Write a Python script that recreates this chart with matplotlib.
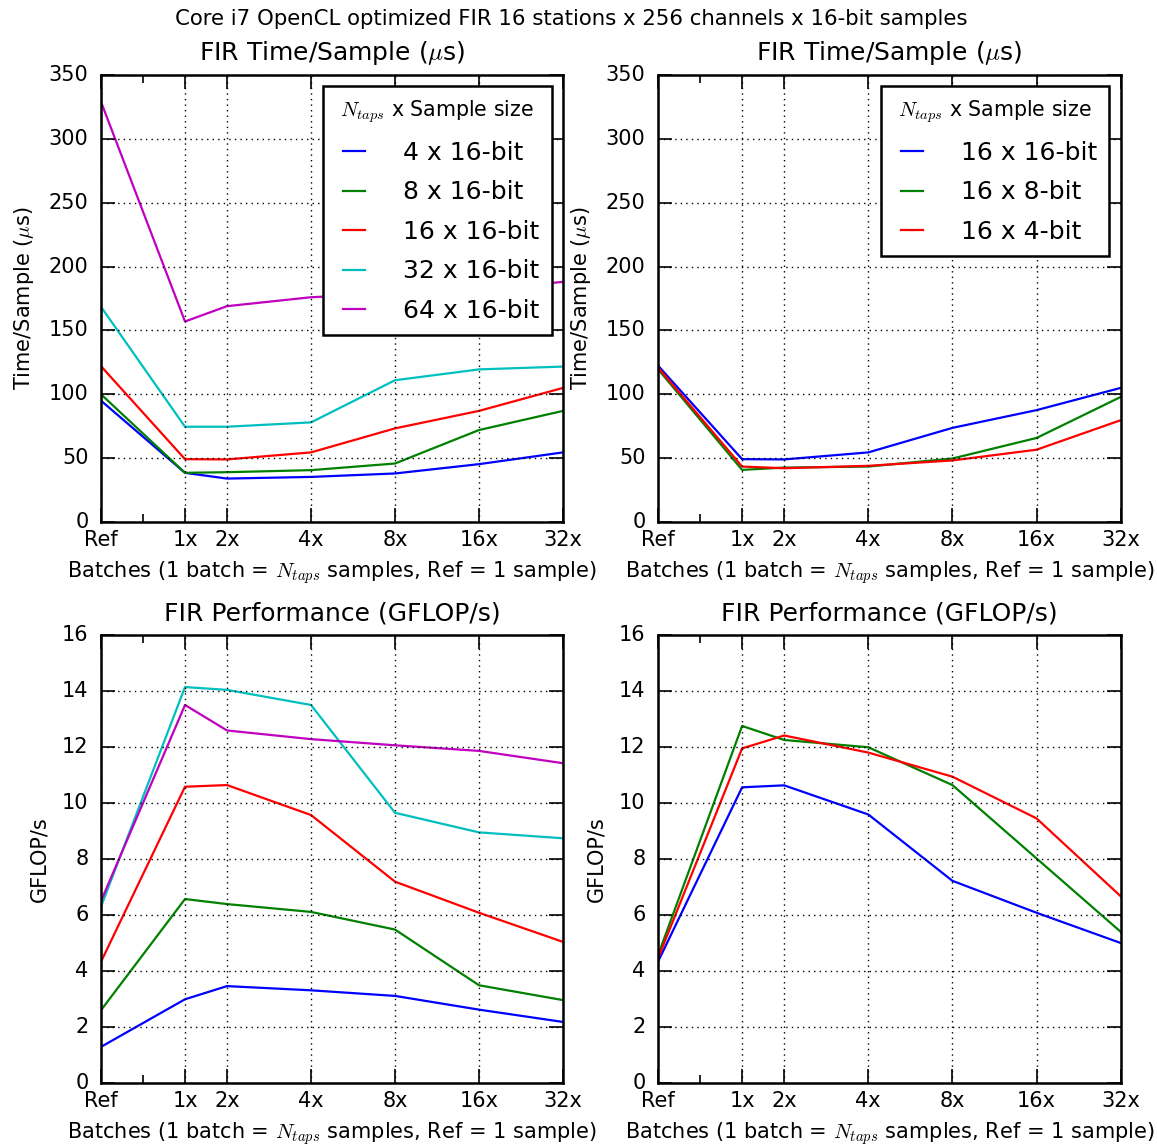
import matplotlib
matplotlib.use('Agg')
import matplotlib.pyplot as plt
from matplotlib.ticker import FixedLocator, MultipleLocator

plt.style.use('classic')
plt.rcParams['figure.facecolor'] = 'white'
plt.rcParams['savefig.facecolor'] = 'white'
plt.rcParams['axes.linewidth'] = 1.8

# batch sizes on the x axis (Ref = 1 sample, Nx = N batches)
batches = ['Ref', '1x', '2x', '4x', '8x', '16x', '32x']
batch_x = [0, 1, 1.5, 2.5, 3.5, 4.5, 5.5]

# left column: varying number of taps, 16-bit samples
taps_labels = ['4 x 16-bit', '8 x 16-bit', '16 x 16-bit', '32 x 16-bit', '64 x 16-bit']
taps_time = [
    [95, 38.5, 34, 35.3, 38, 45.3, 54.5],
    [100, 38.5, 39, 40.6, 45.8, 72, 87],
    [122, 49.2, 49, 54.5, 73.3, 87, 105],
    [168.5, 74.6, 74.6, 78, 111, 119.5, 121.7],
    [329, 157, 169, 176, 179, 182, 188],
]
taps_gflops = [
    [1.29, 2.99, 3.46, 3.31, 3.11, 2.62, 2.18],
    [2.6, 6.57, 6.39, 6.11, 5.48, 3.49, 2.96],
    [4.33, 10.58, 10.64, 9.57, 7.19, 6.08, 5.04],
    [6.3, 14.14, 14.04, 13.5, 9.65, 8.95, 8.74],
    [6.5, 13.5, 12.59, 12.28, 12.06, 11.86, 11.42],
]

# right column: 16 taps, varying sample size
bits_labels = ['16 x 16-bit', '16 x 8-bit', '16 x 4-bit']
bits_time = [
    [122.5, 49.2, 49, 54.5, 73.7, 87.6, 105],
    [119.7, 40.8, 42.6, 43.4, 49.7, 65.8, 97.9],
    [121, 43.4, 42.1, 44, 48.2, 56.6, 79.7],
]
bits_gflops = [
    [4.33, 10.56, 10.63, 9.59, 7.22, 6.08, 5.0],
    [4.56, 12.75, 12.25, 11.99, 10.64, 8.02, 5.4],
    [4.45, 11.95, 12.41, 11.8, 10.94, 9.45, 6.67],
]

colors = ['b', 'g', 'r', 'c', 'm']
legend_title = '$N_{taps}$ x Sample size'
xlabel = 'Batches (1 batch = $N_{taps}$ samples, Ref = 1 sample)'
time_title = r'FIR Time/Sample ($\mu$s)'
perf_title = 'FIR Performance (GFLOP/s)'


def setup(ax, title, ylabel, ymax, ystep):
    ax.set_xlim(batch_x[0], batch_x[-1])
    ax.set_ylim(0, ymax)
    ax.xaxis.set_major_locator(FixedLocator(batch_x))
    ax.xaxis.set_minor_locator(FixedLocator([0.5]))
    ax.set_xticklabels(batches)
    ax.yaxis.set_major_locator(MultipleLocator(ystep))
    ax.tick_params(which='major', length=10, width=1.2, labelsize=15)
    ax.tick_params(which='minor', length=6, width=1.2)
    ax.tick_params(axis='x', pad=6)
    ax.tick_params(axis='y', pad=9)
    ax.grid(True, which='major', color='k', linestyle=':', linewidth=1.0)
    ax.set_title(title, fontsize=18, y=1.017)
    ax.set_ylabel(ylabel, fontsize=15, labelpad=9)
    ax.set_xlabel(xlabel, fontsize=15, labelpad=6.5)


fig = plt.figure(figsize=(11.57, 11.47), dpi=100)
fig.suptitle('Core i7 OpenCL optimized FIR 16 stations x 256 channels x 16-bit samples',
             fontsize=15.3, x=0.494, y=0.992)

ax1 = fig.add_axes([0.0873, 0.5449, 0.3993, 0.3897])
ax2 = fig.add_axes([0.5687, 0.5449, 0.3999, 0.3897])
ax3 = fig.add_axes([0.0873, 0.0558, 0.3993, 0.3906])
ax4 = fig.add_axes([0.5687, 0.0558, 0.3999, 0.3906])

for i, label in enumerate(taps_labels):
    ax1.plot(batch_x, taps_time[i], color=colors[i], lw=1.6, label=label)
    ax3.plot(batch_x, taps_gflops[i], color=colors[i], lw=1.6, label=label)

for i, label in enumerate(bits_labels):
    ax2.plot(batch_x, bits_time[i], color=colors[i], lw=1.6, label=label)
    ax4.plot(batch_x, bits_gflops[i], color=colors[i], lw=1.6, label=label)

setup(ax1, time_title, r'Time/Sample ($\mu$s)', 350, 50)
setup(ax2, time_title, r'Time/Sample ($\mu$s)', 350, 50)
setup(ax3, perf_title, 'GFLOP/s', 16, 2)
setup(ax4, perf_title, 'GFLOP/s', 16, 2)

for ax in (ax1, ax2):
    leg = ax.legend(loc='upper right', fontsize=18, title=legend_title,
                    handlelength=1.5, handletextpad=1.2, borderpad=0.5,
                    labelspacing=0.62, borderaxespad=0.45)
    leg.get_title().set_fontsize(14.8)
    leg.get_frame().set_linewidth(1.8)
    leg.get_frame().set_edgecolor('k')

fig.savefig('out.png', dpi=100)
